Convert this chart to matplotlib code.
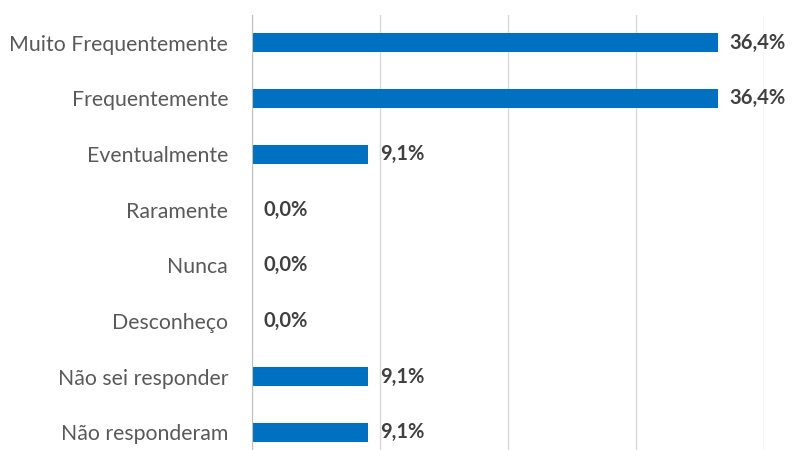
import matplotlib.pyplot as plt

plt.rcParams['font.family'] = ['Lato', 'DejaVu Sans']

categorias = ['Muito Frequentemente', 'Frequentemente', 'Eventualmente', 'Raramente',
              'Nunca', 'Desconheço', 'Não sei responder', 'Não responderam']
valores = [36.4, 36.4, 9.1, 0.0, 0.0, 0.0, 9.1, 9.1]

fig = plt.figure(figsize=(7.92, 4.5), dpi=100)
ax = fig.add_axes([0.318, 0.0, 0.6465, 0.9667])

y = range(len(categorias))
ax.barh(y, valores, height=0.34, color='#0070C0', zorder=3)

for i, v in zip(y, valores):
    ax.annotate(f'{v:.1f}%'.replace('.', ','), (v, i), xytext=(8.5, 0),
                textcoords='offset points', va='center', ha='left',
                fontsize=14.5, fontweight='bold', color='#404040')

ax.set_xlim(0, 40)
ax.set_ylim(7.32, -0.5)
ax.set_xticks([0, 10, 20, 30, 40])
ax.xaxis.grid(True, color='#d9d9d9', linewidth=1)
ax.set_yticks(list(y))
ax.set_yticklabels(categorias, fontsize=15.3, color='#595959')
ax.tick_params(axis='y', length=0, pad=17)
ax.tick_params(axis='x', length=0, labelbottom=False)
for s in ['top', 'right', 'bottom']:
    ax.spines[s].set_visible(False)
ax.spines['left'].set_color('#bfbfbf')
ax.spines['left'].set_zorder(4)

fig.savefig('out.png', dpi=100)
